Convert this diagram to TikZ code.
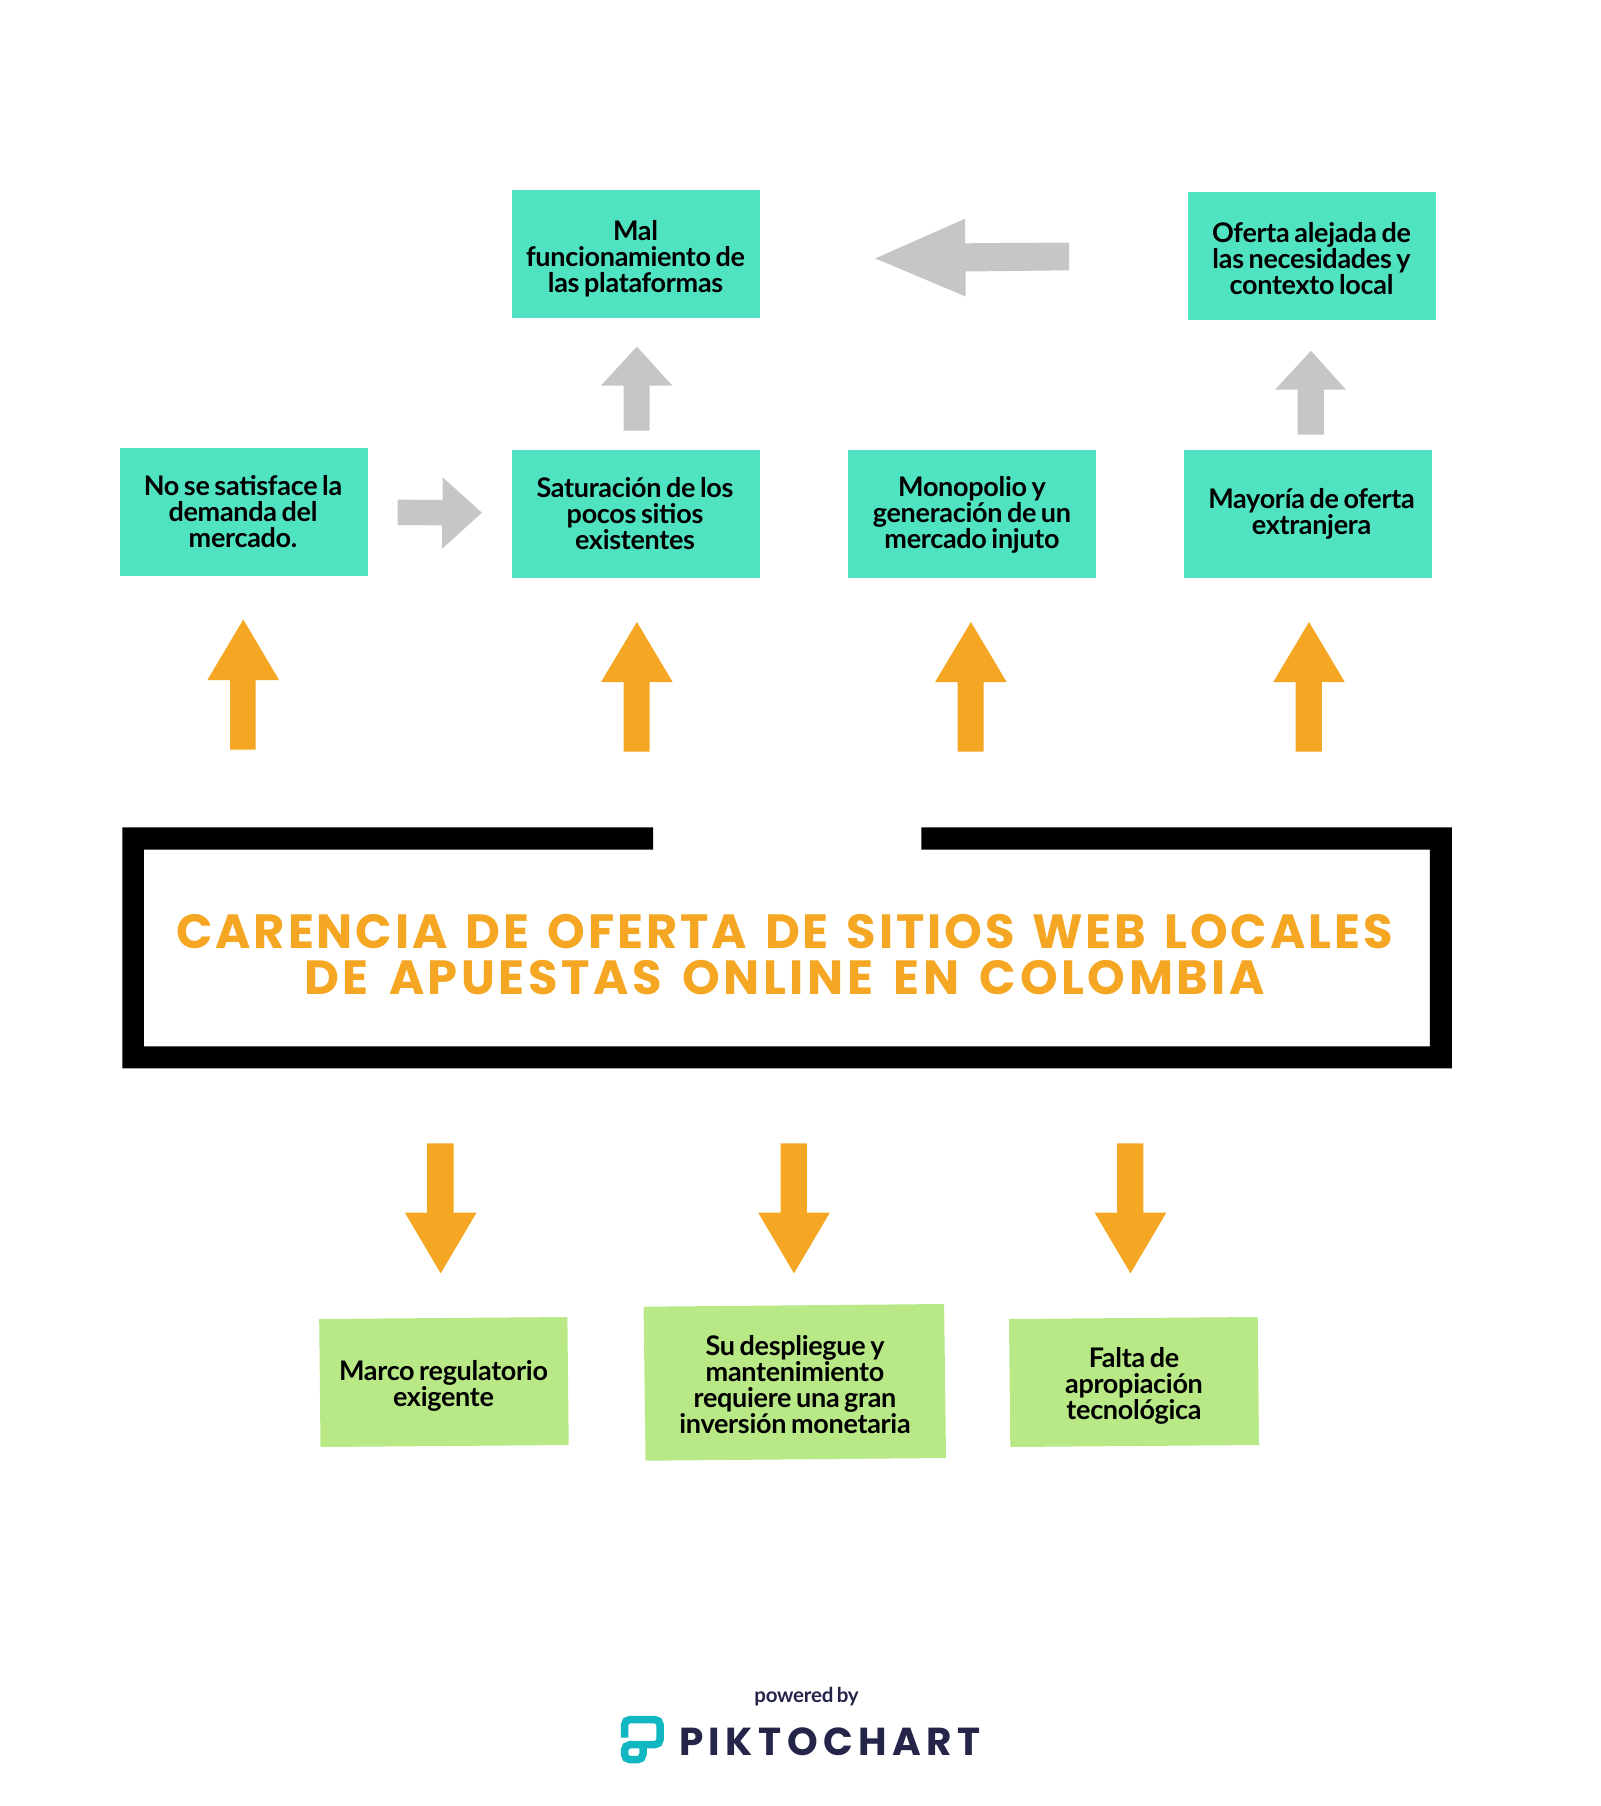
\documentclass[tikz,border=0pt]{standalone}
\usepackage{fontspec}
\setmainfont{Lato}[LetterSpace=-1.1,WordSpace=0.72]
\newfontfamily\titlefont{Poppins}[LetterSpace=6,WordSpace=1.38]
\newfontfamily\titlefontb{Poppins}[LetterSpace=7.4,WordSpace=1.5]
\newfontfamily\brandfont{Poppins}[LetterSpace=14]
\definecolor{teal}{HTML}{50E3C2}
\definecolor{leaf}{HTML}{B8E986}
\definecolor{amber}{HTML}{F5A623}
\definecolor{graya}{HTML}{C6C6C6}
\definecolor{navy}{HTML}{25254A}
\definecolor{logoc}{HTML}{10B6C0}
\tikzset{
  boxtxt/.style={align=center,inner sep=0pt,font=\fontsize{27}{26}\selectfont\bfseries,text=black},
  tealbox/.style={fill=teal,draw=none},
  leafbox/.style={fill=leaf,draw=none},
  warm/.style={fill=amber,draw=none},
  cool/.style={fill=graya,draw=none},
}
\begin{document}
\begin{tikzpicture}[x=1pt,y=-1pt]
\useasboundingbox (0,0) rectangle (1600,1806);
% teal boxes
\fill[tealbox] (120.2,447.7) rectangle (368.4,576.2);
\node[boxtxt] (n1) at (243,511.5) {No se satisface la\\demanda del\\mercado.};
\fill[tealbox] (511.6,449.7) rectangle (760,578.2);
\node[boxtxt] (n2) at (635,513.5) {Saturación de los\\pocos sitios\\existentes};
\fill[tealbox] (848,449.7) rectangle (1096,578.2);
\node[boxtxt] (n3) at (972,515) {Monopolio y\\generación de un\\mercado injuto};
\fill[tealbox] (1183.8,449.7) rectangle (1432,578.2);
\node[boxtxt] (n4) at (1311.5,514) {Mayoría de oferta\\extranjera};
\fill[tealbox] (511.6,190.1) rectangle (760,318);
\node[boxtxt] (n5) at (635.5,259) {Mal\\funcionamiento de\\las plataformas};
\fill[tealbox] (1188,192.1) rectangle (1436,320.2);
\node[boxtxt] (n6) at (1311.5,259) {Oferta alejada de\\las necesidades y\\contexto local};
% grey arrows
\fill[cool,shift={(-1.5,-1)}] (638.4,347.6) -- (673.7,386.5) -- (651,386.5) -- (651,431.5) -- (625,431.5) -- (625,386.5) -- (602.5,386.5) -- cycle;
\fill[cool,shift={(-1,-0.5)}] (1312,351.3) -- (1347,390.2) -- (1324.8,390.2) -- (1324.8,435.2) -- (1298.7,435.2) -- (1298.7,390.2) -- (1276,390.2) -- cycle;
\fill[cool,shift={(-1.5,-1)}] (399,500.6) -- (444,501) -- (444,478.2) -- (483.4,513.7) -- (443.5,549.8) -- (443.5,526.4) -- (399,526) -- cycle;
\fill[cool] (875.2,258.4) -- (965.2,218.7) -- (965.2,243.3) -- (1069,242.5) -- (1069,270.3) -- (965.7,271.5) -- (965.7,296.5) -- cycle;
% orange up arrows
\fill[warm,shift={(-0.7,-1)}] (244,620.5) -- (279.8,681.1) -- (256.3,681.1) -- (256.3,750.7) -- (230.7,750.7) -- (230.7,681.1) -- (208,681.1) -- cycle;
\fill[warm,shift={(-2,-1)}] (638.9,623) -- (674.7,683.1) -- (651.7,683.1) -- (651.7,752.7) -- (625.6,752.7) -- (625.6,683.1) -- (603,683.1) -- cycle;
\fill[warm,shift={(-1,-1)}] (971.9,623) -- (1007.7,683.1) -- (984.7,683.1) -- (984.7,752.7) -- (958.6,752.7) -- (958.6,683.1) -- (936,683.1) -- cycle;
\fill[warm,shift={(-1.5,-1)}] (1310.5,623) -- (1346.3,683.1) -- (1323.3,683.1) -- (1323.3,752.7) -- (1297.2,752.7) -- (1297.2,683.1) -- (1274.7,683.1) -- cycle;
% frame
\fill[black] (653,827.3) -- (122.4,827.3) -- (122.4,1068.3) -- (1451.8,1068.3) -- (1451.8,827.3) -- (921.4,827.3) -- (921.4,849.7) -- (1429.8,849.7) -- (1429.8,1046.3) -- (143.9,1046.3) -- (143.9,849.7) -- (653,849.7) -- cycle;
\node[inner sep=0pt,text=amber,font=\fontsize{48}{46}\selectfont\titlefont\bfseries,align=center] (title) at (784.5,954.7) {CARENCIA DE OFERTA DE SITIOS WEB LOCALES\\\titlefontb\bfseries DE APUESTAS ONLINE EN COLOMBIA};
% orange down arrows
\fill[warm] (427.2,1143.3) -- (453.5,1143.3) -- (453.5,1212.7) -- (476.5,1212.7) -- (440.7,1273.3) -- (404.9,1212.7) -- (427.2,1212.7) -- cycle;
\fill[warm,shift={(-1.5,0)}] (782.1,1143.3) -- (808.3,1143.3) -- (808.3,1212.7) -- (831.3,1212.7) -- (795.5,1273.3) -- (759.7,1212.7) -- (782.1,1212.7) -- cycle;
\fill[warm,shift={(-2,0)}] (1119,1143.3) -- (1145.3,1143.3) -- (1145.3,1212.7) -- (1168.3,1212.7) -- (1132.5,1273.3) -- (1096.7,1212.7) -- (1119,1212.7) -- cycle;
% green boxes
\fill[leafbox] (319.2,1319) -- (567.4,1317) -- (568.7,1445) -- (320.5,1447) -- cycle;
\node[boxtxt] (g1) at (443.5,1386) {Marco regulatorio\\exigente};
\fill[leafbox,shift={(-1,0)}] (644.6,1306.7) -- (945.1,1304) -- (947,1458) -- (646.5,1460.7) -- cycle;
\node[boxtxt] (g2) at (795,1385) {Su despliegue y\\mantenimiento\\requiere una gran\\inversión monetaria};
\fill[leafbox,shift={(-2,0)}] (1011,1319) -- (1259.7,1317) -- (1261,1445) -- (1012.3,1447) -- cycle;
\node[boxtxt] (g3) at (1134,1385.5) {Falta de\\apropiación\\tecnológica};
% logo
\node[inner sep=0pt,text=navy,font=\fontsize{20.5}{22}\selectfont\bfseries,anchor=base] (pow) at (806.5,1702.7) {powered by};
\node[inner sep=0pt,text=navy,font=\fontsize{39}{40}\selectfont\brandfont\bfseries,anchor=base west] (brand) at (679,1755) {PIKTOCHART};
\draw[logoc,line width=7.5pt,rounded corners=5.5pt] (624.5,1737.5) -- (624.5,1719.5) -- (660.2,1719.5) -- (660.2,1744.7) -- (624.5,1744.7) -- (624.5,1759.7) -- (643,1759.7) -- (643,1746.7);
\end{tikzpicture}
\end{document}
